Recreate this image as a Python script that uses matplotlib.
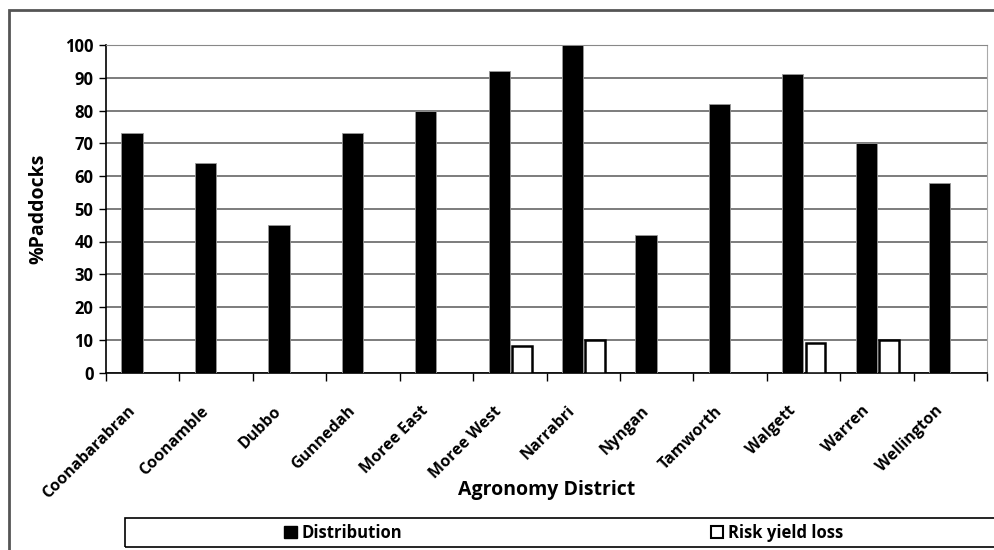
import matplotlib
matplotlib.use("Agg")
import matplotlib.pyplot as plt
import numpy as np
from matplotlib.patches import Rectangle, Patch

districts = ["Coonabarabran", "Coonamble", "Dubbo", "Gunnedah", "Moree East", "Moree West",
             "Narrabri", "Nyngan", "Tamworth", "Walgett", "Warren", "Wellington"]
distribution = [73, 64, 45, 73, 80, 92, 100, 42, 82, 91, 70, 58]
risk_yield_loss = [0, 0, 0, 0, 0, 8, 10, 0, 0, 9, 10, 0]
y_ticks = [0, 10, 20, 30, 40, 50, 60, 70, 80, 90, 100]

FONT = ['Open Sans', 'DejaVu Sans']
plt.rcParams['font.family'] = FONT
plt.rcParams['font.weight'] = 'bold'

W, H = 995, 550
fig = plt.figure(figsize=(W / 100, H / 100), dpi=100)
ax = fig.add_axes([106 / W, 1 - 372.5 / H, (987 - 106) / W, (372.5 - 45) / H])

x = np.arange(len(districts))
bw = 0.29
ax.bar(x - bw / 2, distribution, bw, color='black', edgecolor='#999999', linewidth=0.6,
       zorder=3, label='Distribution')
rx = [xi for xi, v in zip(x, risk_yield_loss) if v > 0]
rv = [v for v in risk_yield_loss if v > 0]
ax.bar(np.array(rx) + bw / 2 + 0.02, rv, bw - 0.02, color='white', edgecolor='black', linewidth=1.8,
       zorder=3, label='Risk yield loss')

ax.set_xlim(-0.5, len(districts) - 0.5)
ax.set_ylim(0, 100)
ax.set_yticks(y_ticks)
ax.set_yticklabels([str(t) for t in y_ticks], fontsize=12, fontweight='bold')
ax.yaxis.grid(True, color='#666666', linewidth=1.2, zorder=0)
ax.set_axisbelow(True)

# category boundary ticks
ax.set_xticks(np.arange(len(districts) + 1) - 0.5)
ax.set_xticklabels([])
ax.tick_params(axis='x', length=6, width=1, color='black')
ax.tick_params(axis='y', length=5, width=1, color='black', pad=4)

# rotated category labels
for xi, name in zip(x, districts):
    ax.annotate(name, xy=(xi, 0), xycoords=('data', 'axes fraction'),
                xytext=(-11.5, -22), textcoords='offset points',
                rotation=45, ha='right', va='top', rotation_mode='anchor',
                fontsize=11.5, fontweight='bold', annotation_clip=False)

ax.spines['left'].set_color('black')
ax.spines['bottom'].set_color('black')
ax.spines['left'].set_linewidth(1.2)
ax.spines['bottom'].set_linewidth(1.2)
ax.spines['right'].set_color('#aaaaaa')
ax.spines['top'].set_color('#888888')

ax.set_ylabel('%Paddocks', fontsize=14, fontweight='bold', labelpad=12)
ax.set_xlabel('Agronomy District', fontsize=14, fontweight='bold', va='center')
ax.xaxis.set_label_coords(0.5, (372.5 - 490) / 327.5)

# outer frame
fig.patches.append(Rectangle((8.5 / W, -0.1), 1.2, 1 - 10.5 / H + 0.1, transform=fig.transFigure,
                             fill=False, edgecolor='#555555', linewidth=2))
# legend box
fig.patches.append(Rectangle((125 / W, 1 - 547 / H), 1.0, 29 / H, transform=fig.transFigure,
                             fill=False, edgecolor='black', linewidth=1.2))
handles = [Patch(facecolor='black', edgecolor='black'),
           Patch(facecolor='white', edgecolor='black', linewidth=1.5)]
fig.legend(handles, ['Distribution', 'Risk yield loss'], loc='center',
           bbox_to_anchor=(564 / W, 1 - 532.5 / H), ncol=2, frameon=False,
           prop={'family': FONT, 'weight': 'bold', 'size': 12},
           columnspacing=18.5, handlelength=0.75, handleheight=0.75, handletextpad=0.3)

fig.savefig('out.png', dpi=100)
